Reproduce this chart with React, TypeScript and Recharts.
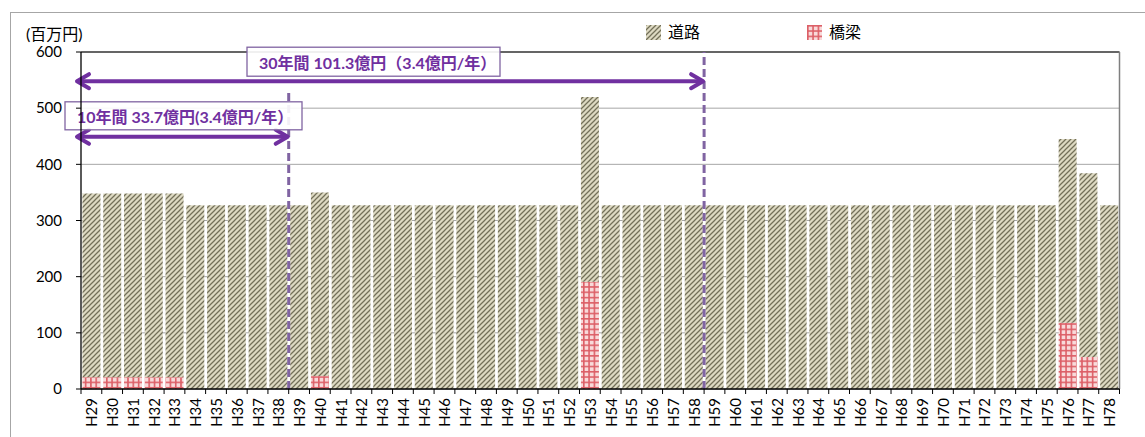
import { BarChart, Bar, XAxis, YAxis, CartesianGrid, ReferenceLine } from 'recharts';

const categories = [
  'H29', 'H30', 'H31', 'H32', 'H33', 'H34', 'H35', 'H36', 'H37', 'H38',
  'H39', 'H40', 'H41', 'H42', 'H43', 'H44', 'H45', 'H46', 'H47', 'H48',
  'H49', 'H50', 'H51', 'H52', 'H53', 'H54', 'H55', 'H56', 'H57', 'H58',
  'H59', 'H60', 'H61', 'H62', 'H63', 'H64', 'H65', 'H66', 'H67', 'H68',
  'H69', 'H70', 'H71', 'H72', 'H73', 'H74', 'H75', 'H76', 'H77', 'H78',
];

// 道路 (百万円)
const roadValues = [
  327, 327, 327, 327, 327, 327, 327, 327, 327, 327,
  327, 327, 327, 327, 327, 327, 327, 327, 327, 327,
  327, 327, 327, 327, 329, 327, 327, 327, 327, 327,
  327, 327, 327, 327, 327, 327, 327, 327, 327, 327,
  327, 327, 327, 327, 327, 327, 327, 327, 327, 327,
];

// 橋梁 (百万円)
const bridgeValues = [
  21, 21, 21, 21, 21, 0, 0, 0, 0, 0,
  0, 23, 0, 0, 0, 0, 0, 0, 0, 0,
  0, 0, 0, 0, 191, 0, 0, 0, 0, 0,
  0, 0, 0, 0, 0, 0, 0, 0, 0, 0,
  0, 0, 0, 0, 0, 0, 0, 118, 57, 0,
];

const yTicks = [0, 100, 200, 300, 400, 500, 600];

const data = categories.map((name, i) => ({
  name,
  road: roadValues[i],
  bridge: bridgeValues[i],
}));

const W = 1145;
const H = 437;
const PLOT_LEFT = 81;
const PLOT_RIGHT = 1119.5;
const PLOT_TOP = 52;
const PLOT_BOTTOM = 389;
const BAND = (PLOT_RIGHT - PLOT_LEFT) / categories.length;
const Y_AXIS_W = 50;

const PURPLE = '#7030A0';
const DASH_PURPLE = '#8064A2';
const FONT = "Lato, 'Noto Sans CJK JP', sans-serif";

function Patterns({ suffix = '' }: { suffix?: string }) {
  return (
    <defs>
      <pattern id={'roadPat' + suffix} width="5" height="5" patternUnits="userSpaceOnUse">
        <rect width="5" height="5" fill="#ddd9c2" />
        <path d="M-1,1 l2,-2 M0,5 l5,-5 M4,6 l2,-2" stroke="#737059" strokeWidth="1.25" />
      </pattern>
      <pattern id={'bridgePat' + suffix} width="5.3" height="5.3" patternUnits="userSpaceOnUse">
        <rect width="5.3" height="5.3" fill="#f8dada" />
        <path d="M0,0.8 H5.3 M0.8,0 V5.3" stroke="#dc5e66" strokeWidth="1.6" />
      </pattern>
    </defs>
  );
}

function XTick(props: any) {
  const { x, y, payload } = props;
  const left = x - BAND / 2;
  const isLast = payload.value === categories[categories.length - 1];
  return (
    <g>
      <line x1={left} x2={left} y1={y} y2={y + 5} stroke="#000" />
      {isLast && <line x1={x + BAND / 2} x2={x + BAND / 2} y1={y} y2={y + 5} stroke="#000" />}
      <text
        transform={`translate(${x},${y + 9}) rotate(-90)`}
        textAnchor="end"
        dominantBaseline="central"
        fontSize={15}
        fill="#000"
        fontFamily={FONT}
      >
        {payload.value}
      </text>
    </g>
  );
}

function arrowShape(label: string, boxDx: number, boxW: number, boxDy: number, boxH: number, textDx: number) {
  return (props: any) => {
    const { x1, y1, x2 } = props;
    const lx = x1 - 4;
    const rx = x2 - 1;
    const y = y1;
    return (
      <g>
        <line x1={lx + 2} y1={y} x2={rx - 2} y2={y} stroke={PURPLE} strokeWidth={4} />
        <polyline
          points={`${lx + 12},${y - 7} ${lx},${y} ${lx + 12},${y + 7}`}
          fill="none"
          stroke={PURPLE}
          strokeWidth={4}
          strokeLinecap="round"
          strokeLinejoin="round"
        />
        <polyline
          points={`${rx - 12},${y - 7} ${rx},${y} ${rx - 12},${y + 7}`}
          fill="none"
          stroke={PURPLE}
          strokeWidth={4}
          strokeLinecap="round"
          strokeLinejoin="round"
        />
        <rect
          x={x1 + boxDx}
          y={y + boxDy}
          width={boxW}
          height={boxH}
          fill="#fff"
          fillOpacity={0.9}
          stroke={DASH_PURPLE}
          strokeWidth={1.3}
        />
        <text
          x={x1 + boxDx + textDx}
          y={y + boxDy + boxH / 2 + 1}
          dominantBaseline="central"
          fontSize={16}
          fontWeight="bold"
          fill={PURPLE}
          fontFamily={FONT}
        >
          {label}
        </text>
      </g>
    );
  };
}

function Legend() {
  const item = (left: number, pat: string, label: string) => (
    <div style={{ position: 'absolute', left, top: 24, display: 'flex', alignItems: 'center' }}>
      <svg width={15} height={15} style={{ display: 'block' }}>
        <Patterns suffix={'-' + pat} />
        <rect width={15} height={15} fill={`url(#${pat}Pat-${pat})`} />
      </svg>
      <span style={{ marginLeft: 7, fontSize: 16, fontFamily: FONT, color: '#000', lineHeight: '16px' }}>{label}</span>
    </div>
  );
  return (
    <>
      {item(646, 'road', '道路')}
      {item(807, 'bridge', '橋梁')}
    </>
  );
}

export default function App() {
  return (
    <div style={{ position: 'absolute', left: 0, top: 0, width: W, height: H, background: '#fff', overflow: 'hidden' }}>
      <div
        style={{
          position: 'absolute',
          left: 10,
          top: 12,
          width: 1150,
          height: 440,
          border: '1px solid #a6a6a6',
          boxSizing: 'border-box',
        }}
      />
      <div style={{ position: 'absolute', left: 26, top: 21, fontSize: 16, fontFamily: FONT, color: '#000' }}>
        (百万円)
      </div>
      <Legend />
      <div style={{ position: 'absolute', left: 0, top: 0 }}>
        <BarChart
          width={W}
          height={H}
          data={data}
          barCategoryGap="7%"
          margin={{ top: PLOT_TOP, right: W - PLOT_RIGHT, bottom: 0, left: PLOT_LEFT - Y_AXIS_W }}
        >
          <Patterns />
          <CartesianGrid vertical={false} stroke="#a6a6a6" />
          <XAxis
            dataKey="name"
            interval={0}
            tickLine={false}
            tickSize={0}
            tickMargin={0}
            height={H - PLOT_BOTTOM}
            axisLine={{ stroke: '#000', strokeWidth: 1.3 }}
            tick={<XTick />}
          />
          <YAxis
            width={Y_AXIS_W}
            domain={[0, 600]}
            ticks={yTicks}
            interval={0}
            tickSize={5}
            tickMargin={14}
            axisLine={{ stroke: '#000', strokeWidth: 1.3 }}
            tickLine={{ stroke: '#000' }}
            tick={{ fontSize: 15, fill: '#000', fontFamily: FONT }}
          />
          <Bar dataKey="bridge" stackId="a" fill="url(#bridgePat)" isAnimationActive={false} />
          <Bar dataKey="road" stackId="a" fill="url(#roadPat)" isAnimationActive={false} />
          <ReferenceLine y={600} stroke="#404040" strokeWidth={1.5} />
          <ReferenceLine x="H78" position="end" stroke="#7f7f7f" strokeWidth={1.5} />
          <ReferenceLine
            segment={[{ x: 'H39', y: 0 }, { x: 'H39', y: 532 }]}
            position="start"
            stroke={DASH_PURPLE}
            strokeWidth={3}
            strokeDasharray="8 4"
          />
          <ReferenceLine
            x="H59"
            position="start"
            stroke={DASH_PURPLE}
            strokeWidth={3}
            strokeDasharray="8 4"
          />
          <ReferenceLine
            segment={[{ x: 'H29', y: 449 }, { x: 'H39', y: 449 }]}
            position="start"
            shape={arrowShape('10年間 33.7億円(3.4億円/年）', -16, 237, -35, 28, 12)}
          />
          <ReferenceLine
            segment={[{ x: 'H29', y: 548 }, { x: 'H59', y: 548 }]}
            position="start"
            shape={arrowShape('30年間 101.3億円（3.4億円/年）', 166, 253, -34, 29, 12)}
          />
        </BarChart>
      </div>
    </div>
  );
}
